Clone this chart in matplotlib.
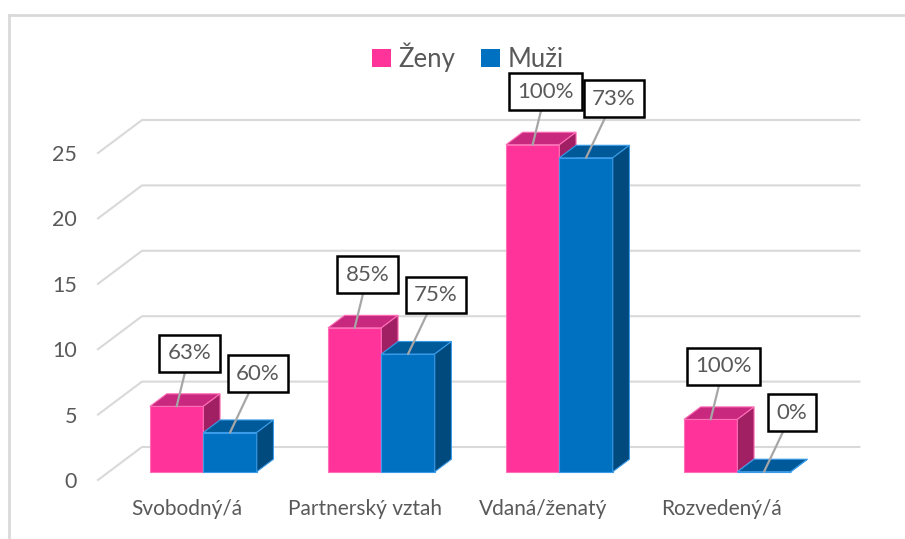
import matplotlib.pyplot as plt
from matplotlib.patches import Polygon, Rectangle
from matplotlib.lines import Line2D

plt.rcParams['font.family'] = ['Lato', 'DejaVu Sans']

# DATA
categories = ["Svobodný/á", "Partnerský vztah", "Vdaná/ženatý", "Rozvedený/á"]
series_names = ["Ženy", "Muži"]
zeny = [5, 11, 25, 4]
muzi = [3, 9, 24, 0]
zeny_pct = ["63%", "85%", "100%", "100%"]
muzi_pct = ["60%", "75%", "73%", "0%"]
yticks = [0, 5, 10, 15, 20, 25]

# colours: front, top, side, edge
PINK = ("#FF3399", "#C8287E", "#A11F63", "#FF6FB7")
BLUE = ("#0070C0", "#005A9A", "#004A7E", "#3A9BE8")
TXT = "#595959"
GRID = "#D9D9D9"

W, H = 905, 539
fig = plt.figure(figsize=(W / 100, H / 100), dpi=100)

# front plane anchors (pixels) and fake 3D depth
x0_px, y0_px = 98, 480
px_x = 178      # px per category
px_y = 13.08    # px per value unit
DX = 44 / px_x  # back wall offset
DY = 33 / px_y
T0, T1 = 0.25, 0.63   # depth span of the bars
BW = 0.3
SHIFT = 0.03          # bars sit a touch right of the label centres

xmin, xmax = -0.5, 3.5 + DX + 0.03
ymin, ymax = 0, 25 + DY
ax = fig.add_axes([x0_px / W, (H - y0_px) / H,
                   (xmax - xmin) * px_x / W, (ymax - ymin) * px_y / H])
ax.set_xlim(xmin, xmax)
ax.set_ylim(ymin, ymax)
for s in ax.spines.values():
    s.set_visible(False)

# gridlines: oblique floor edge + back wall
for y in yticks:
    ax.plot([xmin, xmin + DX, xmax], [y, y + DY, y + DY],
            color=GRID, lw=1.5, clip_on=False, zorder=1)


def bar3d(xc, v, cols):
    front, top, side, edge = cols
    xl = xc - BW / 2 + T0 * DX
    xr = xc + BW / 2 + T0 * DX
    yb = T0 * DY
    yt = v + T0 * DY
    ddx = (T1 - T0) * DX
    ddy = (T1 - T0) * DY
    faces = [
        ([(xl, yb), (xr, yb), (xr, yt), (xl, yt)], front),
        ([(xl, yt), (xr, yt), (xr + ddx, yt + ddy), (xl + ddx, yt + ddy)], top),
        ([(xr, yb), (xr + ddx, yb + ddy), (xr + ddx, yt + ddy), (xr, yt)], side),
    ]
    for pts, c in faces:
        ax.add_patch(Polygon(pts, closed=True, fc=c, ec=edge, lw=0.8,
                             joinstyle="miter", zorder=3, clip_on=False))
    # anchor for the label leader: middle of front top edge
    return (xl + xr) / 2, yt


def label(pt, txt, off):
    ax.annotate(txt, xy=pt, xytext=off, textcoords="offset pixels",
                ha="center", va="center", fontsize=16, color=TXT, zorder=6,
                bbox=dict(boxstyle="square,pad=0.38", fc="white", ec="black", lw=1.8),
                arrowprops=dict(arrowstyle="-", color="#A6A6A6", lw=1.6,
                                shrinkA=0, shrinkB=0))


for i in range(len(categories)):
    p = bar3d(i + SHIFT - BW / 2, zeny[i], PINK)
    label(p, zeny_pct[i], (13, 53))
    b = bar3d(i + SHIFT + BW / 2, muzi[i], BLUE)
    label(b, muzi_pct[i], (28, 59))

ax.set_yticks(yticks)
ax.set_yticklabels([str(t) for t in yticks])
ax.set_xticks(range(len(categories)))
ax.set_xticklabels(categories)
ax.tick_params(axis="y", length=0, pad=15, labelsize=15.5, labelcolor=TXT)
ax.tick_params(axis="x", length=0, pad=14, labelsize=15, labelcolor=TXT)

# legend
handles = [Rectangle((0, 0), 1, 1, fc=PINK[0]), Rectangle((0, 0), 1, 1, fc=BLUE[0])]
fig.legend(handles, series_names, loc="center", bbox_to_anchor=(468 / W, 1 - 57 / H),
           ncol=2, frameon=False, fontsize=18.5, labelcolor=TXT,
           handlelength=0.72, handleheight=0.72, handletextpad=0.3, columnspacing=1.0)

# chart area border (top and left edges visible)
fig.add_artist(Line2D([9 / W, 1], [1 - 15 / H, 1 - 15 / H], color=GRID, lw=2))
fig.add_artist(Line2D([9 / W, 9 / W], [0, 1 - 15 / H], color=GRID, lw=2))

fig.savefig("out.png", dpi=100)
